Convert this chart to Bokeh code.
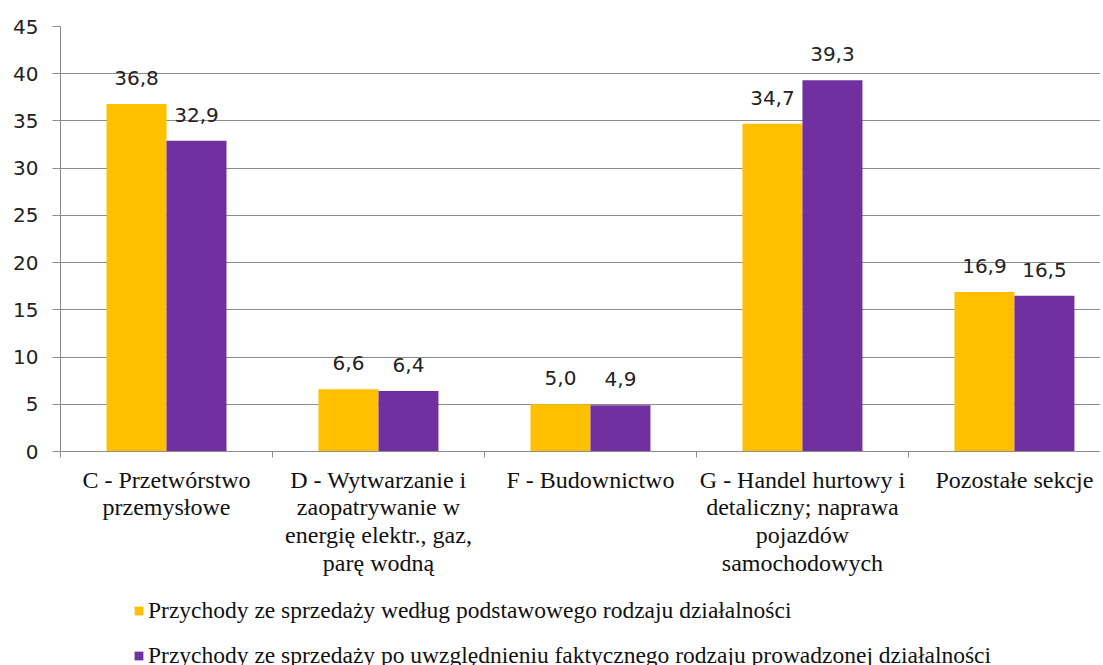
from bokeh.plotting import figure
from bokeh.models import (ColumnDataSource, Range1d, LinearAxis, FixedTicker, LabelSet,
                          Legend, LegendItem)
from bokeh.layouts import column
from bokeh.core.properties import value
from bokeh.transform import dodge
from bokeh.embed import file_html
from bokeh.resources import INLINE
import numpy as np

categories = ["C - Przetwórstwo\nprzemysłowe",
              "D - Wytwarzanie i\nzaopatrywanie w\nenergię elektr., gaz,\nparę wodną",
              "F - Budownictwo",
              "G - Handel hurtowy i\ndetaliczny; naprawa\npojazdów\nsamochodowych",
              "Pozostałe sekcje"]
series1 = [36.8, 6.6, 5.0, 34.7, 16.9]
series2 = [32.9, 6.4, 4.9, 39.3, 16.5]
series_names = ["Przychody ze sprzedaży według podstawowego rodzaju działalności",
                "Przychody ze sprzedaży po uwzględnieniu faktycznego rodzaju prowadzonej działalności"]
y_ticks = [0, 5, 10, 15, 20, 25, 30, 35, 40, 45]

YELLOW = "#FFC000"
PURPLE = "#7030A0"
GRID = "#8C8C8C"

idx = np.arange(len(categories)) + 0.5
src = ColumnDataSource(dict(
    x=idx, s1=series1, s2=series2,
    l1=[f"{v:.1f}".replace(".", ",") for v in series1],
    l2=[f"{v:.1f}".replace(".", ",") for v in series2],
))

p = figure(frame_width=1040, frame_height=425, output_backend="svg", toolbar_location=None,
           x_range=Range1d(0, 4.906), y_range=Range1d(0, 45),
           x_axis_location=None, y_axis_location=None,
           min_border_left=60, min_border_right=0, min_border_top=26, min_border_bottom=132)
p.outline_line_color = None
p.background_fill_color = "white"
p.border_fill_color = "white"

bw = 0.283
r1 = p.vbar(x=dodge("x", -bw / 2), top="s1", width=bw, source=src, fill_color=YELLOW, line_color=None)
r2 = p.vbar(x=dodge("x", bw / 2), top="s2", width=bw, source=src, fill_color=PURPLE, line_color=None)

for col, lab, off in (("s1", "l1", -bw / 2), ("s2", "l2", bw / 2)):
    ls = LabelSet(x=dodge("x", off), y=col, text=lab, source=src, text_align="center",
                  text_baseline="bottom", y_offset=19, text_font=value("DejaVu Sans"),
                  text_font_size=value("20px"), text_color=value("#222222"))
    p.add_layout(ls)

yax = LinearAxis(ticker=FixedTicker(ticks=y_ticks, minor_ticks=[]))
yax.axis_line_color = GRID
yax.major_tick_line_color = GRID
yax.major_tick_out = 8
yax.major_tick_in = 0
yax.minor_tick_line_color = None
yax.major_label_text_font = "DejaVu Sans"
yax.major_label_text_font_size = "20px"
yax.major_label_text_color = "#222222"
yax.major_label_standoff = 14
p.add_layout(yax, "left")

xax = LinearAxis(ticker=FixedTicker(ticks=list(idx), minor_ticks=list(range(len(categories) + 1))))
xax.major_label_overrides = {float(v): c for v, c in zip(idx, categories)}
xax.axis_line_color = GRID
xax.major_tick_line_color = None
xax.minor_tick_line_color = GRID
xax.minor_tick_out = 6
xax.minor_tick_in = 0
xax.major_label_text_font = "Liberation Serif"
xax.major_label_text_font_size = "24px"
xax.major_label_text_color = "#111111"
xax.major_label_standoff = 9
xax.major_label_text_line_height = 1.07
p.add_layout(xax, "below")

p.xgrid.visible = False
p.ygrid.ticker = FixedTicker(ticks=y_ticks)
p.ygrid.grid_line_color = GRID

# legend strip below the chart (its bars lie outside its visible x range)
pl = figure(width=1100, height=82, output_backend="svg", toolbar_location=None,
            x_range=Range1d(-3, -2), y_range=Range1d(0, 1),
            x_axis_location=None, y_axis_location=None,
            min_border_left=0, min_border_right=0, min_border_top=0, min_border_bottom=0)
pl.outline_line_color = None
pl.grid.visible = False
g1 = pl.vbar(x="x", top="s1", width=0.1, source=src, fill_color=YELLOW, line_color=None)
g2 = pl.vbar(x="x", top="s2", width=0.1, source=src, fill_color=PURPLE, line_color=None)

legend = Legend(items=[LegendItem(label=series_names[0], renderers=[g1]),
                       LegendItem(label=series_names[1], renderers=[g2])],
                orientation="vertical", location=(73, -4))
legend.label_text_font = "Liberation Serif"
legend.label_text_font_size = "23.5px"
legend.label_text_color = "#111111"
legend.label_height = 22
legend.glyph_width = 11
legend.glyph_height = 11
legend.label_standoff = 4
legend.spacing = 18
legend.padding = 0
legend.margin = 0
legend.border_line_color = None
legend.background_fill_alpha = 0
pl.add_layout(legend, "center")

layout = column(p, pl, spacing=0)
open("out.html", "w").write(file_html(layout, INLINE))
